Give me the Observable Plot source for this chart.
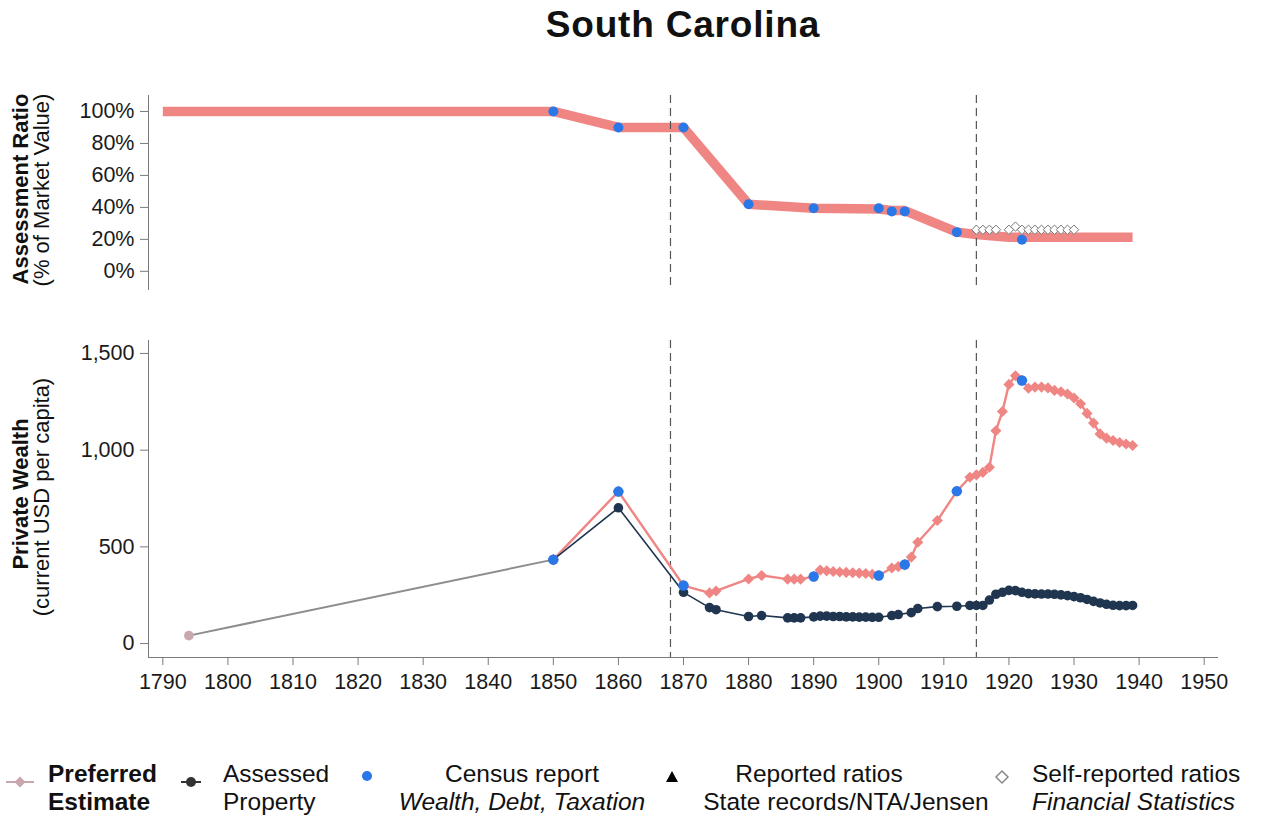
<!DOCTYPE html>
<html>
<head>
<meta charset="utf-8">
<script src="https://cdn.jsdelivr.net/npm/d3@7"></script>
<script src="https://cdn.jsdelivr.net/npm/@observablehq/plot@0.6"></script>
<style>
  html, body { margin: 0; padding: 0; background: #fff; }
  #root { position: relative; width: 1267px; height: 816px; overflow: hidden;
          font-family: "Liberation Sans", Arial, Helvetica, sans-serif; color: #111; background: #fff; }
  .abs { position: absolute; white-space: nowrap; }
  .panel { position: absolute; left: 0; }
  .ytitle { position: absolute; white-space: nowrap; font-size: 22px; line-height: 24px;
            transform: translate(-50%, -50%) rotate(-90deg); }
  .leg { position: absolute; white-space: nowrap; font-size: 24.5px; line-height: 28px; }
</style>
</head>
<body>
<div id="root"></div>
<script>
// ---------------- data ----------------
const title = "South Carolina";
const xTicks = [1790, 1800, 1810, 1820, 1830, 1840, 1850, 1860, 1870, 1880, 1890, 1900, 1910, 1920, 1930, 1940, 1950];
const eraBreaks = [1868, 1915];
const ratioTicks = [0, 20, 40, 60, 80, 100];
const wealthTicks = [0, 500, 1000, 1500];

// Top panel: assessment ratio (% of market value)
const ratioYears     = [1790, 1850, 1860, 1870, 1880, 1890, 1900, 1902, 1904, 1912, 1915, 1920, 1939];
const ratioPreferred = [100,  100,  90,   90,   42,   39.5, 39,   38,   38,   24.5, 23,   21.3, 21.3];

const censusRatioYears = [1850, 1860, 1870, 1880, 1890, 1900, 1902, 1904, 1912, 1922];
const censusRatio      = [100,  90,   90,   42,   39.5, 39.5, 37.5, 37.5, 24.5, 19.7];

const selfReportYears = [1915, 1916, 1917, 1918, 1920, 1921, 1922, 1923, 1924, 1925, 1926, 1927, 1928, 1929, 1930];
const selfReportRatio = [26,   26,   26,   26,   26,   28,   26,   26,   26,   26,   26,   26,   26,   26,   26];

// Bottom panel: private wealth (current USD per capita)
const prefYears  = [1794, 1850, 1860, 1870, 1874, 1875, 1880, 1882, 1886, 1887, 1888, 1890, 1891, 1892, 1893, 1894, 1895, 1896, 1897, 1898, 1899, 1900,
                    1902, 1903, 1904, 1905, 1906, 1909, 1912, 1914, 1915, 1916, 1917, 1918, 1919, 1920, 1921, 1922, 1923, 1924, 1925, 1926, 1927,
                    1928, 1929, 1930, 1931, 1932, 1933, 1934, 1935, 1936, 1937, 1938, 1939];
const prefWealth = [41,   434,  786,  300,  262,  272,  334,  352,  333,  333,  333,  347,  380,  376,  373,  370,  368,  366,  364,  362,  358,  352,
                    391,  398,  407,  447,  524,  636,  788,  860,  872,  885,  912,  1100, 1200, 1340, 1385, 1360, 1320, 1326, 1326, 1322, 1309,
                    1302, 1290, 1270, 1240, 1190, 1140, 1084, 1062, 1050, 1040, 1032, 1024];

const assessedYears  = [1850, 1860, 1870, 1874, 1875, 1880, 1882, 1886, 1887, 1888, 1890, 1891, 1892, 1893, 1894, 1895, 1896, 1897, 1898, 1899, 1900,
                        1902, 1903, 1905, 1906, 1909, 1912, 1914, 1915, 1916, 1917, 1918, 1919, 1920, 1921, 1922, 1923, 1924, 1925, 1926, 1927,
                        1928, 1929, 1930, 1931, 1932, 1933, 1934, 1935, 1936, 1937, 1938, 1939];
const assessedWealth = [434,  702,  265,  186,  175,  140,  145,  133,  133,  133,  138,  142,  142,  140,  140,  138,  138,  137,  137,  136,  136,
                        145,  150,  160,  181,  191,  193,  197,  197,  197,  225,  255,  265,  275,  274,  265,  258,  257,  256,  256,  255,
                        252,  248,  243,  237,  228,  218,  210,  203,  198,  196,  196,  197];

const censusWealthYears = [1850, 1860, 1870, 1890, 1900, 1904, 1912, 1922];
const censusWealth      = [434,  786,  300,  347,  352,  409,  788,  1360];

const legendLines = [
  ["Preferred", "Estimate"],
  ["Assessed", "Property"],
  ["Census report", "Wealth, Debt, Taxation"],
  ["Reported ratios", "State records/NTA/Jensen"],
  ["Self-reported ratios", "Financial Statistics"]
];

// ---------------- styles ----------------
const FONT = '"Liberation Sans", Arial, Helvetica, sans-serif';
const COL = { pref: "#ef8684", early: "#8d8d8d", earlyDot: "#c9a7ae", navy: "#20354f", census: "#2a77e8",
              axis: "#7a7a7a", text: "#1a1a1a", dash: "#555" };
const xDomain = [1787.8, 1952.2];
const topDomain = [-12, 110];
const botDomain = [-72, 1567];
const TICK_FONT = 21.5;

const zip = (xs, ys) => xs.map((year, i) => ({ year, value: ys[i] }));
const ratioData = zip(ratioYears, ratioPreferred);
const censusRatioData = zip(censusRatioYears, censusRatio);
const selfData = zip(selfReportYears, selfReportRatio);
const prefData = zip(prefYears, prefWealth);
const earlyData = prefData.filter(d => d.year <= 1850);
const lateData = prefData.filter(d => d.year >= 1850);
const assessedData = zip(assessedYears, assessedWealth);
const censusWealthData = zip(censusWealthYears, censusWealth);

const baseStyle = { fontFamily: FONT, fontSize: TICK_FONT + "px", color: COL.text, background: "transparent", overflow: "visible" };

const root = document.getElementById("root");

// Title
const t = document.createElement("div");
t.className = "abs";
t.textContent = title;
Object.assign(t.style, { left: "683px", top: "6px", transform: "translateX(-50%)", fontSize: "37px",
  fontWeight: "bold", lineHeight: "37px", letterSpacing: "0.8px" });
root.appendChild(t);

// Top panel
const topPlot = Plot.plot({
  width: 1267, height: 220, marginLeft: 148, marginRight: 49, marginTop: 15, marginBottom: 10,
  style: baseStyle,
  x: { domain: xDomain, axis: null },
  y: { domain: topDomain, axis: null },
  marks: [
    Plot.ruleX([xDomain[0]], { stroke: COL.axis, strokeWidth: 1 }),
    Plot.axisY({ ticks: ratioTicks, tickFormat: d => d + "%", tickSize: 8, tickPadding: 6, label: null,
                 stroke: COL.axis, fill: COL.text, fontSize: TICK_FONT }),
    Plot.line(ratioData, { x: "year", y: "value", stroke: COL.pref, strokeWidth: 9.5, strokeLinecap: "butt", strokeLinejoin: "round" }),
    Plot.ruleX(eraBreaks, { stroke: COL.dash, strokeWidth: 1.2, strokeDasharray: "8,5" }),
    Plot.dot(selfData, { x: "year", y: "value", symbol: "diamond2", r: 4.2, fill: "white", stroke: "#777", strokeWidth: 1 }),
    Plot.dot(censusRatioData, { x: "year", y: "value", r: 5, fill: COL.census })
  ]
});
topPlot.classList.add("panel");
topPlot.style.top = "80px";
root.appendChild(topPlot);

// Bottom panel
const botPlot = Plot.plot({
  width: 1267, height: 377, marginLeft: 148, marginRight: 49, marginTop: 20, marginBottom: 40,
  style: baseStyle,
  x: { domain: xDomain },
  y: { domain: botDomain },
  marks: [
    Plot.ruleX([xDomain[0]], { stroke: COL.axis, strokeWidth: 1 }),
    Plot.ruleY([botDomain[0]], { stroke: COL.axis, strokeWidth: 1 }),
    Plot.axisY({ ticks: wealthTicks, tickFormat: d3.format(","), tickSize: 8, tickPadding: 6, label: null,
                 stroke: COL.axis, fill: COL.text, fontSize: TICK_FONT }),
    Plot.axisX({ ticks: xTicks, tickFormat: "d", tickSize: 8, tickPadding: 8, label: null,
                 stroke: COL.axis, fill: COL.text, fontSize: TICK_FONT }),
    Plot.ruleX(eraBreaks, { stroke: COL.dash, strokeWidth: 1.2, strokeDasharray: "8,5" }),
    Plot.line(lateData, { x: "year", y: "value", stroke: COL.pref, strokeWidth: 2.4 }),
    Plot.dot(lateData, { x: "year", y: "value", symbol: "diamond2", r: 5, fill: COL.pref }),
    Plot.line(earlyData, { x: "year", y: "value", stroke: COL.early, strokeWidth: 2 }),
    Plot.dot(earlyData.filter(d => d.year < 1850), { x: "year", y: "value", r: 4.8, fill: COL.earlyDot }),
    Plot.line(assessedData, { x: "year", y: "value", stroke: COL.navy, strokeWidth: 1.6 }),
    Plot.dot(assessedData, { x: "year", y: "value", r: 4.8, fill: COL.navy }),
    Plot.dot(censusWealthData, { x: "year", y: "value", r: 5.2, fill: COL.census })
  ]
});
botPlot.classList.add("panel");
botPlot.style.top = "320px";
root.appendChild(botPlot);

// Y-axis titles
function ytitle(text, cx, cy, bold) {
  const d = document.createElement("div");
  d.className = "ytitle";
  d.textContent = text;
  d.style.left = cx + "px";
  d.style.top = cy + "px";
  if (bold) d.style.fontWeight = "bold";
  root.appendChild(d);
}
ytitle("Assessment Ratio", 21, 189, true);
ytitle("(% of Market Value)", 42, 190, false);
ytitle("Private Wealth", 21, 494, true);
ytitle("(current USD per capita)", 42, 497, false);

// Legend
const legSvgNS = "http://www.w3.org/2000/svg";
const legSvg = document.createElementNS(legSvgNS, "svg");
legSvg.setAttribute("width", 1267);
legSvg.setAttribute("height", 816);
Object.assign(legSvg.style, { position: "absolute", left: "0", top: "0", pointerEvents: "none" });
legSvg.innerHTML = `
  <line x1="6" x2="34" y1="782" y2="782" stroke="${COL.earlyDot}" stroke-width="2"/>
  <path d="M20,776.5 L25.5,782 L20,787.5 L14.5,782 Z" fill="${COL.earlyDot}"/>
  <line x1="181" x2="201" y1="782" y2="782" stroke="#333" stroke-width="2"/>
  <circle cx="191" cy="782" r="5" fill="#333"/>
  <circle cx="367" cy="776" r="5" fill="${COL.census}"/>
  <path d="M672,771 L678,782 L666,782 Z" fill="#000"/>
  <path d="M1002,771 L1008,777 L1002,783 L996,777 Z" fill="white" stroke="#8a8a8a" stroke-width="1.5"/>
`;
root.appendChild(legSvg);

function leg(text, x, line, opts = {}) {
  const d = document.createElement("div");
  d.className = "leg";
  d.textContent = text;
  d.style.top = (760 + line * 28) + "px";
  d.style.left = x + "px";
  if (opts.center) d.style.transform = "translateX(-50%)";
  if (opts.bold) d.style.fontWeight = "bold";
  if (opts.italic) d.style.fontStyle = "italic";
  root.appendChild(d);
}
leg(legendLines[0][0], 48, 0, { bold: true });
leg(legendLines[0][1], 48, 1, { bold: true });
leg(legendLines[1][0], 223, 0);
leg(legendLines[1][1], 223, 1);
leg(legendLines[2][0], 522, 0, { center: true });
leg(legendLines[2][1], 522, 1, { center: true, italic: true });
leg(legendLines[3][0], 819, 0, { center: true });
leg(legendLines[3][1], 846, 1, { center: true });
leg(legendLines[4][0], 1032, 0);
leg(legendLines[4][1], 1032, 1, { italic: true });
</script>
</body>
</html>
